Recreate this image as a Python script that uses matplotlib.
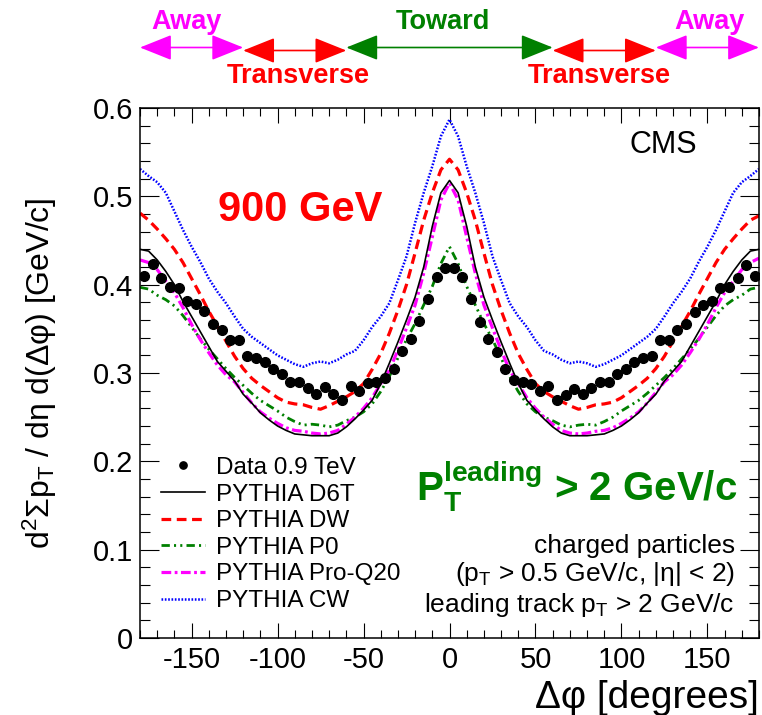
import numpy as np
import matplotlib
matplotlib.use('Agg')
import matplotlib.pyplot as plt
import matplotlib.transforms as mtransforms
from matplotlib.ticker import MultipleLocator

plt.rcParams['font.family'] = ['Liberation Sans', 'DejaVu Sans']
plt.rcParams['mathtext.fontset'] = 'custom'
plt.rcParams['mathtext.rm'] = 'Liberation Sans'
plt.rcParams['mathtext.it'] = 'Liberation Sans:italic'
plt.rcParams['mathtext.bf'] = 'Liberation Sans:bold'
plt.rcParams['lines.scale_dashes'] = False
plt.rcParams['axes.unicode_minus'] = False

# bin centres (5 degree bins) for data, curve sample points for the tunes
phi_data = np.arange(-177.5, 180, 5)
phi_mc = np.arange(-180, 185, 5)

# data 0.9 TeV
data_09 = [0.410, 0.423, 0.407, 0.397, 0.396, 0.382, 0.378, 0.370, 0.355, 0.349,
           0.337, 0.337, 0.319, 0.317, 0.312, 0.305, 0.299, 0.290, 0.290, 0.283,
           0.276, 0.284, 0.276, 0.270, 0.285, 0.280, 0.289, 0.290, 0.294, 0.305,
           0.325, 0.338, 0.359, 0.384, 0.409, 0.419,
           0.419, 0.409, 0.384, 0.358, 0.338, 0.324, 0.305, 0.292, 0.290, 0.288,
           0.280, 0.285, 0.270, 0.275, 0.282, 0.276, 0.283, 0.290, 0.290, 0.299,
           0.305, 0.312, 0.317, 0.319, 0.337, 0.337, 0.349, 0.355, 0.369, 0.377,
           0.382, 0.396, 0.397, 0.407, 0.422, 0.410]

# PYTHIA tunes, -180 ... 180 in steps of 5 degrees
d6t = [0.440, 0.438, 0.428, 0.415, 0.400, 0.381, 0.364, 0.347, 0.330, 0.313,
       0.302, 0.291, 0.276, 0.266, 0.255, 0.247, 0.240, 0.235, 0.231, 0.230,
       0.229, 0.229, 0.229, 0.232, 0.239, 0.248, 0.258, 0.269, 0.288, 0.311,
       0.335, 0.360, 0.386, 0.420, 0.466, 0.504, 0.518,
       0.504, 0.466, 0.420, 0.386, 0.360, 0.335, 0.311, 0.288, 0.269, 0.258,
       0.248, 0.239, 0.232, 0.229, 0.229, 0.229, 0.230, 0.231, 0.235, 0.240,
       0.247, 0.255, 0.266, 0.276, 0.291, 0.302, 0.313, 0.330, 0.347, 0.364,
       0.381, 0.400, 0.415, 0.428, 0.438, 0.440]
dw = [0.481, 0.473, 0.463, 0.452, 0.440, 0.425, 0.407, 0.389, 0.370, 0.353,
      0.336, 0.319, 0.305, 0.294, 0.286, 0.279, 0.272, 0.267, 0.265, 0.264,
      0.261, 0.259, 0.263, 0.268, 0.273, 0.279, 0.288, 0.304, 0.322, 0.345,
      0.371, 0.400, 0.436, 0.473, 0.504, 0.530, 0.542,
      0.530, 0.504, 0.473, 0.436, 0.400, 0.371, 0.345, 0.322, 0.304, 0.288,
      0.279, 0.273, 0.268, 0.263, 0.259, 0.261, 0.264, 0.265, 0.267, 0.272,
      0.279, 0.286, 0.294, 0.305, 0.319, 0.336, 0.353, 0.370, 0.389, 0.407,
      0.425, 0.440, 0.452, 0.463, 0.473, 0.478]
p0 = [0.397, 0.395, 0.388, 0.383, 0.376, 0.365, 0.352, 0.339, 0.327, 0.316,
      0.305, 0.295, 0.286, 0.277, 0.269, 0.263, 0.257, 0.250, 0.245, 0.241,
      0.242, 0.241, 0.239, 0.241, 0.246, 0.250, 0.256, 0.265, 0.279, 0.296,
      0.317, 0.338, 0.356, 0.377, 0.398, 0.424, 0.443,
      0.424, 0.398, 0.377, 0.356, 0.338, 0.317, 0.296, 0.279, 0.265, 0.256,
      0.250, 0.246, 0.241, 0.239, 0.241, 0.242, 0.241, 0.245, 0.250, 0.257,
      0.263, 0.269, 0.277, 0.286, 0.295, 0.305, 0.316, 0.327, 0.339, 0.352,
      0.365, 0.376, 0.383, 0.388, 0.395, 0.397]
proq20 = [0.428, 0.425, 0.417, 0.404, 0.391, 0.374, 0.355, 0.338, 0.323, 0.309,
          0.298, 0.290, 0.278, 0.266, 0.256, 0.249, 0.243, 0.238, 0.235, 0.234,
          0.232, 0.231, 0.232, 0.235, 0.242, 0.250, 0.260, 0.272, 0.288, 0.303,
          0.326, 0.351, 0.377, 0.413, 0.454, 0.496, 0.515,
          0.496, 0.454, 0.413, 0.377, 0.351, 0.326, 0.303, 0.288, 0.272, 0.260,
          0.250, 0.242, 0.235, 0.232, 0.231, 0.232, 0.234, 0.235, 0.238, 0.243,
          0.249, 0.256, 0.266, 0.278, 0.290, 0.298, 0.309, 0.323, 0.338, 0.355,
          0.374, 0.391, 0.404, 0.417, 0.425, 0.430]
cw = [0.531, 0.523, 0.516, 0.504, 0.483, 0.462, 0.443, 0.426, 0.407, 0.392,
      0.379, 0.364, 0.350, 0.341, 0.334, 0.327, 0.320, 0.315, 0.310, 0.307,
      0.311, 0.313, 0.311, 0.315, 0.321, 0.325, 0.337, 0.352, 0.364, 0.379,
      0.405, 0.432, 0.470, 0.504, 0.534, 0.568, 0.587,
      0.568, 0.534, 0.504, 0.470, 0.432, 0.405, 0.379, 0.364, 0.352, 0.337,
      0.325, 0.321, 0.315, 0.311, 0.313, 0.311, 0.307, 0.310, 0.315, 0.320,
      0.327, 0.334, 0.341, 0.350, 0.364, 0.379, 0.392, 0.407, 0.426, 0.443,
      0.462, 0.483, 0.504, 0.516, 0.523, 0.531]

# region arrows on top: (from, to, label, label position, colour)
regions = [(-180, -120, 'Away', -153, 'magenta'),
           (-120, -60, 'Transverse', -88, 'red'),
           (-60, 60, 'Toward', -4, 'green'),
           (60, 120, 'Transverse', 87, 'red'),
           (120, 180, 'Away', 151, 'magenta')]

fig = plt.figure(figsize=(7.62, 7.15), dpi=100)
ax = fig.add_axes([140 / 762, 1 - 638 / 715, 619 / 762, 530 / 715])

ax.plot(phi_mc, cw, color='blue', lw=1.8, ls=(0, (1.2, 1.2)), label='PYTHIA CW')
ax.plot(phi_mc, dw, color='red', lw=2.3, ls=(0, (7, 4)), label='PYTHIA DW')
ax.plot(phi_mc, p0, color='green', lw=2.0, ls=(0, (6, 3, 1.5, 3, 1.5, 3)), label='PYTHIA P0')
ax.plot(phi_mc, proq20, color='magenta', lw=2.3, ls=(0, (7, 2.5, 2, 2.5)), label='PYTHIA Pro-Q20')
ax.plot(phi_mc, d6t, color='black', lw=1.2, ls='-', label='PYTHIA D6T')
ax.plot(phi_data, data_09, 'o', color='black', ms=7, mec='black', label='Data 0.9 TeV', zorder=5)

ax.set_xlim(-180, 180)
ax.set_ylim(0, 0.6)
ax.xaxis.set_major_locator(MultipleLocator(50))
ax.xaxis.set_minor_locator(MultipleLocator(10))
ax.yaxis.set_minor_locator(MultipleLocator(0.02))
ax.set_yticks([0, 0.1, 0.2, 0.3, 0.4, 0.5, 0.6])
ax.set_yticklabels(['0', '0.1', '0.2', '0.3', '0.4', '0.5', '0.6'])
ax.tick_params(which='both', direction='in', top=True, right=True, labelsize=21, width=0.8)
ax.tick_params(axis='x', which='major', length=11, pad=6)
ax.tick_params(axis='x', which='minor', length=5.5)
ax.tick_params(axis='y', which='major', length=13.5, pad=5)
ax.tick_params(axis='y', which='minor', length=7)
for s in ax.spines.values():
    s.set_linewidth(1.1)

# axis titles
ax.text(1.0, -0.113, 'Δφ [degrees]', transform=ax.transAxes, ha='right', va='center', fontsize=28)
ax.text(-0.162, 0.5, r'd$^\mathregular{2}$Σp$_\mathregular{T}$ / dη d(Δφ) [GeV/c]',
        transform=ax.transAxes, rotation=90, ha='center', va='center', fontsize=23)

# labels inside the frame
ax.text(0.845, 0.93, 'CMS', transform=ax.transAxes, ha='center', va='center', fontsize=22)
ax.text(0.258, 0.808, '900 GeV', transform=ax.transAxes, ha='center', va='center',
        fontsize=30, fontweight='bold', color='red')
ax.text(0.965, 0.287, r'$\mathbf{P_{T}^{leading}}$ > 2 GeV/c', transform=ax.transAxes,
        ha='right', va='center', fontsize=29, fontweight='bold', color='green')
ax.text(0.961, 0.173, 'charged particles', transform=ax.transAxes, ha='right', va='center', fontsize=19)
ax.text(0.961, 0.120, r'(p$_\mathregular{T}$ > 0.5 GeV/c, |η| < 2)', transform=ax.transAxes,
        ha='right', va='center', fontsize=19)
ax.text(0.961, 0.062, r'leading track p$_\mathregular{T}$ > 2 GeV/c', transform=ax.transAxes,
        ha='right', va='center', fontsize=19)

# legend in the order of the reference
h, l = ax.get_legend_handles_labels()
order = ['Data 0.9 TeV', 'PYTHIA D6T', 'PYTHIA DW', 'PYTHIA P0', 'PYTHIA Pro-Q20', 'PYTHIA CW']
hs = [h[l.index(o)] for o in order]
leg = ax.legend(hs, order, loc='upper left', bbox_to_anchor=(0.018, 0.36), frameon=False,
                fontsize=17.5, handlelength=1.8, handletextpad=0.45, labelspacing=0.19,
                borderaxespad=0, markerscale=0.75)

# Away / Transverse / Toward arrows above the frame
trans = mtransforms.blended_transform_factory(ax.transData, fig.transFigure)
for x0, x1, name, xt, col in regions:
    y = 1 - 50.5 / 715 if col == 'red' else 1 - 47.5 / 715
    ax.annotate('', xy=(x1, y), xytext=(x0, y), xycoords=trans, textcoords=trans,
                annotation_clip=False,
                arrowprops=dict(arrowstyle='<|-|>,head_length=1.0,head_width=0.4',
                                mutation_scale=20, color=col, lw=1.2,
                                shrinkA=0, shrinkB=0))
    yt = 1 - 76 / 715 if col == 'red' else 1 - 22 / 715
    ax.text(xt, yt, name, transform=trans, ha='center', va='center', fontsize=19.5,
            fontweight='bold', color=col)

fig.savefig('out.png', dpi=100)
